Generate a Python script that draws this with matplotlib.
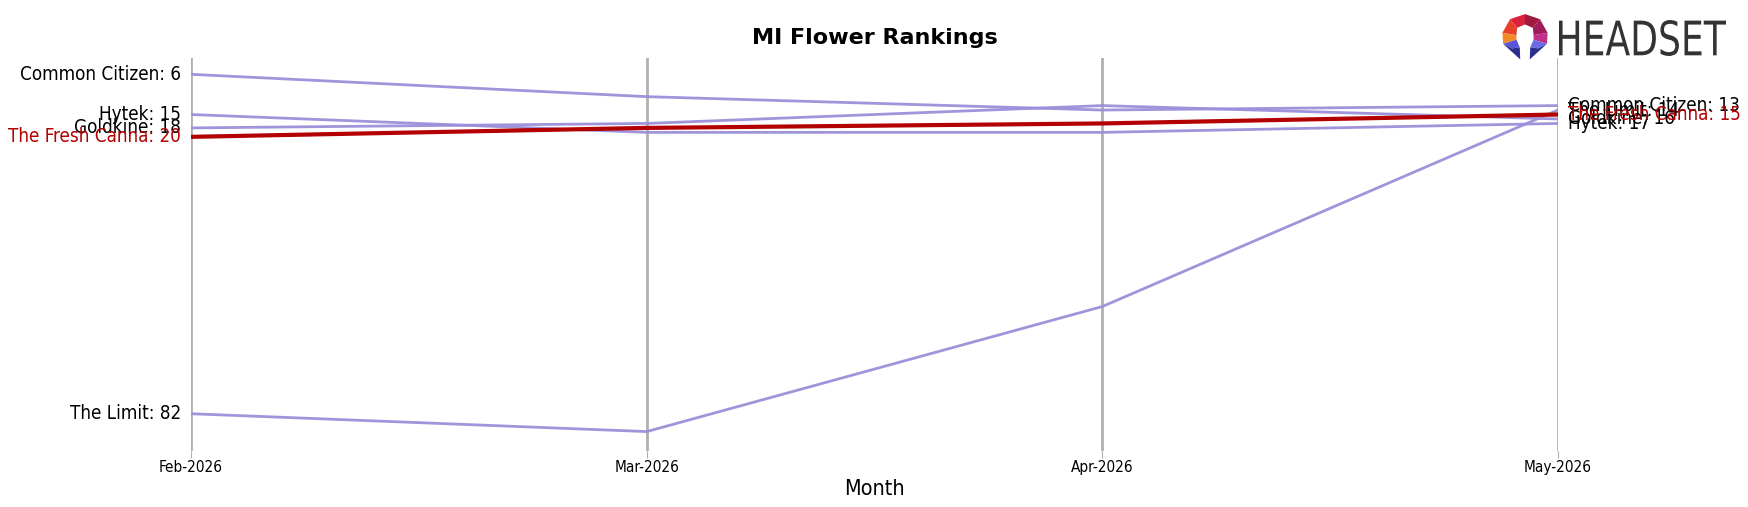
import matplotlib
matplotlib.use("Agg")
import matplotlib.pyplot as plt
from matplotlib.patches import Polygon, PathPatch
from matplotlib.textpath import TextPath
from matplotlib.font_manager import FontProperties
from matplotlib.transforms import Affine2D, IdentityTransform

# MI Flower rankings per month
months = ["Feb-2026", "Mar-2026", "Apr-2026", "May-2026"]
brands = ["Common Citizen", "Hytek", "Goldkine", "The Limit", "The Fresh Canna"]
rank_common_citizen = [6, 11, 14, 13]
rank_hytek = [15, 19, 19, 17]
rank_goldkine = [18, 17, 13, 16]
rank_the_limit = [82, 86, 58, 14]
rank_fresh_canna = [20, 18, 17, 15]
highlight = "The Fresh Canna"

ranks = {
    "Common Citizen": rank_common_citizen,
    "Hytek": rank_hytek,
    "Goldkine": rank_goldkine,
    "The Limit": rank_the_limit,
    "The Fresh Canna": rank_fresh_canna,
}

fig = plt.figure(figsize=(17.49, 5.07), dpi=100)
ax = fig.add_axes([0.109, 0.110, 0.782, 0.776])

x = list(range(len(months)))
for i in x:
    ax.axvline(i, color="#b0b0b0", lw=2, zorder=1)

for b in brands:
    r = ranks[b]
    if b == highlight:
        ax.plot(x, r, color="#b30000", lw=3, zorder=5)
        col = "#b30000"
    else:
        ax.plot(x, r, color="#9b8fd9", lw=2, zorder=3, alpha=0.95)
        col = "black"
    ax.annotate(f"{b}: {r[0]}", (0, r[0]), xytext=(-7, 0), textcoords="offset points",
                ha="right", va="center", fontsize=13.5, color=col, fontstretch="condensed")
    ax.annotate(f"{b}: {r[-1]}", (x[-1], r[-1]), xytext=(7, 0), textcoords="offset points",
                ha="left", va="center", fontsize=13.5, color=col, fontstretch="condensed")

ax.set_ylim(90.4, 2.3)
ax.set_xlim(-0.001, len(months) - 1 + 0.001)
ax.set_yticks([])
ax.set_xticks(x)
ax.set_xticklabels(months, fontsize=11, fontstretch="condensed")
ax.tick_params(axis="x", length=5, color="#b0b0b0", pad=1)
for s in ax.spines.values():
    s.set_visible(False)
ax.set_xlabel("Month", fontsize=15.5, fontstretch="condensed", labelpad=3)
ax.set_title("MI Flower Rankings", fontsize=16, fontweight="bold", pad=10)

# HEADSET logo (pixel coordinates, origin bottom-left)
H = 507
lax = fig.add_axes([1500 / 1749, (H - 61) / H, 50 / 1749, 48 / H])
lax.set_xlim(-1.05, 1.05)
lax.set_ylim(-1.05, 1.05)
lax.axis("off")
shapes = [
    ([(0, 1.0), (-0.63, 0.78), (-0.33, 0.4), (0, 0.55)], "#d9233c"),
    ([(0, 1.0), (0.63, 0.78), (0.33, 0.4), (0, 0.55)], "#9e1a3e"),
    ([(-0.63, 0.78), (-0.95, 0.18), (-0.36, 0.08), (-0.33, 0.4)], "#e8402a"),
    ([(0.63, 0.78), (0.95, 0.18), (0.36, 0.08), (0.33, 0.4)], "#a01b5a"),
    ([(-0.95, 0.18), (-0.92, -0.3), (-0.36, -0.12), (-0.36, 0.08)], "#f58a28"),
    ([(0.95, 0.18), (0.92, -0.3), (0.36, -0.12), (0.36, 0.08)], "#c0308a"),
    ([(-0.92, -0.3), (-0.36, -0.12), (-0.22, -0.45), (-0.55, -0.5)], "#5656d6"),
    ([(0.92, -0.3), (0.36, -0.12), (0.22, -0.45), (0.55, -0.5)], "#6b6be6"),
    ([(-0.92, -0.3), (-0.55, -0.5), (-0.22, -0.45), (-0.2, -0.98)], "#2d2d8f"),
    ([(0.92, -0.3), (0.55, -0.5), (0.22, -0.45), (0.2, -0.98)], "#2d2d8f"),
]
for pts, c in shapes:
    lax.add_patch(Polygon(pts, closed=True, color=c, lw=0))

tp = TextPath((0, 0), "HEADSET", size=1,
              prop=FontProperties(family="DejaVu Sans", stretch="condensed"))
ext = tp.get_extents()
x0, x1, y0, y1 = 1559, 1726, H - 56, H - 20
tr = (Affine2D().translate(-ext.x0, -ext.y0)
      .scale((x1 - x0) / ext.width, (y1 - y0) / ext.height)
      .translate(x0, y0))
fig.add_artist(PathPatch(tp, transform=tr + IdentityTransform(),
                         color="#333333", lw=0))

fig.savefig("out.png", dpi=100)
